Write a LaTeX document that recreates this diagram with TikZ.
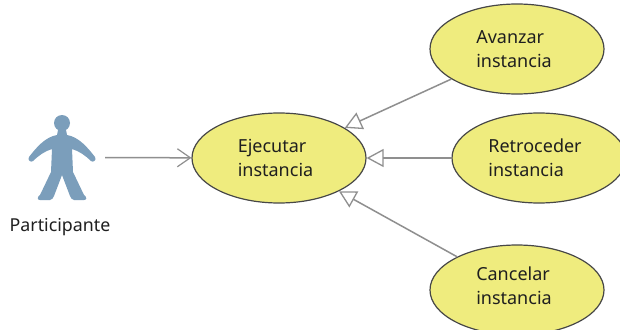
\documentclass[tikz,border=0pt]{standalone}
\usepackage{fontspec}
\setmainfont{Noto Sans}
\usetikzlibrary{shapes.geometric,arrows.meta}
\definecolor{uc}{HTML}{EFEC7E}
\definecolor{act}{HTML}{7B9EBB}
\definecolor{lin}{HTML}{8F8F8F}
\tikzset{
  usecase/.style={ellipse,draw=black!72!white,fill=uc,line width=1.2pt,minimum width=174pt,minimum height=90pt,inner sep=0pt,align=left,font=\fontsize{18}{24}\selectfont,text=black!88},
  gen/.style={draw=lin,line width=1.5pt,-{Triangle[open,fill=white,length=17pt,width=18pt,line width=1.3pt]}},
  assoc/.style={draw=lin,line width=1.5pt,-{Straight Barb[length=13pt,width=18pt,line width=1.2pt]}}
}
\begin{document}
\begin{tikzpicture}[x=1pt,y=-1pt]
\useasboundingbox (0,0) rectangle (620,329);
\clip (0,0) rectangle (620,329);
\fill[white] (0,0) rectangle (620,329);
% actor figure
\fill[act] (62,123) circle (8);
\fill[act] (58,130) -- (66,130) -- (67,135)
  .. controls (79,137) and (88,148) .. (95,157)
  .. controls (97,160) and (93,163) .. (91,161)
  .. controls (86,156) and (79,151) .. (72,149)
  -- (73,172) -- (84,195)
  .. controls (87,197) and (87,200) .. (84,200) -- (74,200)
  .. controls (72,200) and (71,198) .. (70,196)
  -- (62,175) -- (54,196)
  .. controls (53,198) and (52,200) .. (50,200) -- (40,200)
  .. controls (37,200) and (37,197) .. (40,195)
  -- (51,172) -- (52,149)
  .. controls (45,151) and (38,156) .. (33,161)
  .. controls (31,163) and (27,160) .. (29,157)
  .. controls (36,148) and (45,137) .. (57,135) -- cycle;
\node[minimum width=68pt,minimum height=86pt,inner sep=0pt] (actor) at (62,157.5) {};
\node[inner sep=0pt,font=\fontsize{17.8}{20}\selectfont,text=black!88] (lbl) at (60,227) {Participante};
\node[usecase] (ej) at (279,158) {Ejecutar\\instancia\hspace*{7pt}};
\node[usecase] (av) at (517,49) {Avanzar\\instancia\hspace*{6pt}};
\node[usecase] (re) at (539,158) {Retroceder\hspace*{8pt}\\instancia};
\node[usecase] (ca) at (517,290) {Cancelar\\instancia\hspace*{6pt}\rule[-9pt]{0pt}{9pt}};
\draw[assoc,shorten <=9pt] (actor) -- (ej);
\draw[gen] (av) -- (ej);
\draw[gen] (re) -- (ej);
\draw[gen] (ca) -- (ej);
\end{tikzpicture}
\end{document}
